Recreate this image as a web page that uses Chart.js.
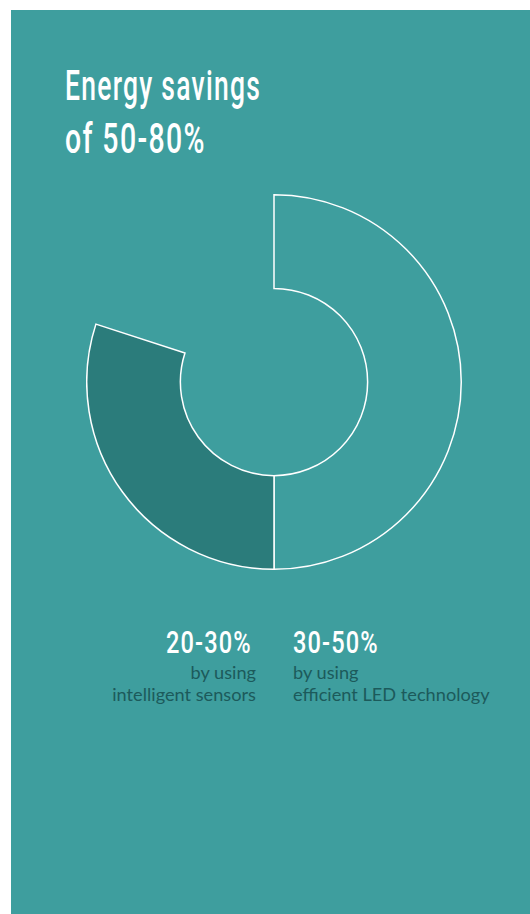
<!DOCTYPE html>
<html>
<head>
<meta charset="utf-8">
<script src="https://cdn.jsdelivr.net/npm/chart.js@4"></script>
<style>
  html, body { margin: 0; padding: 0; background: #fff; }
  #panel {
    position: absolute; left: 11px; top: 10px; width: 519px; height: 904px;
    background: #3e9e9e; overflow: hidden;
  }
  .cond {
    position: absolute; white-space: nowrap; color: #fff;
    font-family: Roboto, sans-serif; font-weight: 500;
  }
  .title { font-size: 42px; line-height: 42px; left: 54px; letter-spacing: 2px; }
  #chartBox { position: absolute; left: 74.5px; top: 184px; width: 376px; height: 376px; }
  .pct { font-size: 31px; line-height: 31px; top: 617px; letter-spacing: 1.5px; }
  .desc {
    position: absolute; white-space: nowrap;
    font-family: Lato, sans-serif; font-size: 18.2px; line-height: 21.5px; color: #1c5a5b;
  }
  .pct.right { right: 278px; text-align: right; }
  .desc.right { right: 274px; text-align: right; }
  .left { left: 282px; }
</style>
</head>
<body>
<div id="panel">
  <div class="cond title" id="t1" style="top:54.6px">Energy savings</div>
  <div class="cond title" id="t2" style="top:107.6px">of 50-80%</div>
  <div id="chartBox"><canvas id="donut"></canvas></div>
  <div class="cond pct right" id="pctLeft"></div>
  <div class="cond pct left" id="pctRight"></div>
  <div class="desc right" id="descLeft" style="top:652px"></div>
  <div class="desc left" id="descRight" style="top:652px"></div>
</div>
<script>
// segments go clockwise from the top; the last one is the empty gap
const segmentLabels = ["efficient LED technology", "intelligent sensors", "not covered"];
const segmentValues = [50, 30, 20];
const segmentFills = ["rgba(0,0,0,0)", "#2b7c7b", "rgba(0,0,0,0)"];
const segmentBorders = [1.5, 1.5, 0];

const rangeLabels = ["30-50%", "20-30%"];
const descLabels = [["by using", "efficient LED technology"], ["by using", "intelligent sensors"]];

document.getElementById("pctRight").textContent = rangeLabels[0];
document.getElementById("pctLeft").textContent = rangeLabels[1];
document.getElementById("descRight").innerHTML = descLabels[0].join("<br>");
document.getElementById("descLeft").innerHTML = descLabels[1].join("<br>");

// no condensed face installed, so squeeze the regular one to the right width
function squeeze(id, width, origin) {
  const el = document.getElementById(id);
  el.style.transformOrigin = origin + " 0";
  el.style.transform = `scaleX(${width / el.offsetWidth})`;
}
squeeze("t1", 196, "left");
squeeze("t2", 141, "left");
squeeze("pctLeft", 86, "right");
squeeze("pctRight", 86, "left");

new Chart(document.getElementById("donut").getContext("2d"), {
  type: "doughnut",
  data: {
    labels: segmentLabels,
    datasets: [
      {
        data: segmentValues,
        backgroundColor: segmentFills,
        borderColor: "#ffffff",
        borderWidth: segmentBorders,
        borderJoinStyle: "miter",
      },
    ],
  },
  options: {
    responsive: true,
    maintainAspectRatio: false,
    animation: false,
    cutout: "50%",
    layout: { padding: 0 },
    plugins: {
      legend: { display: false },
      tooltip: { enabled: false },
    },
  },
});
</script>
</body>
</html>
